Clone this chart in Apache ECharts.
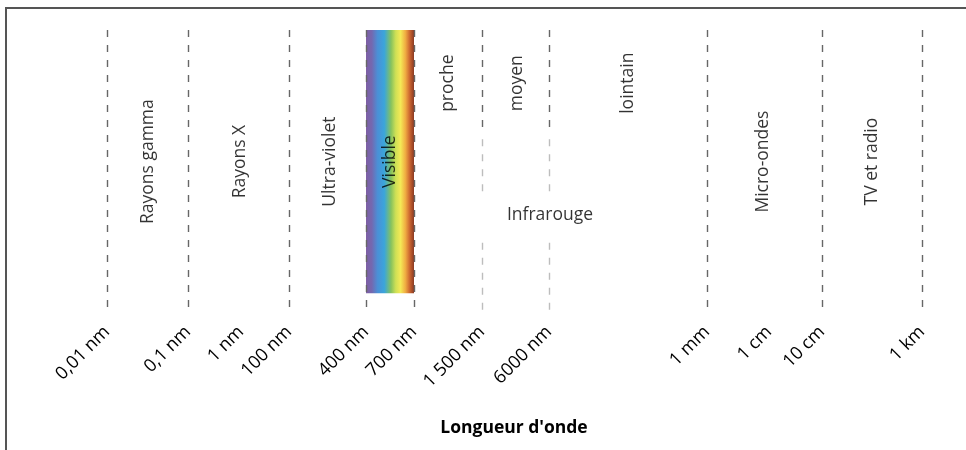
<!DOCTYPE html>
<html>
<head>
<meta charset="utf-8">
<script src="https://cdn.jsdelivr.net/npm/echarts@6/dist/echarts.min.js"></script>
<style>html,body{margin:0;padding:0;background:#fff;}#c{width:966px;height:450px;}</style>
</head>
<body>
<div id="c"></div>
<script>
// Schematic positions along the (non-linear) wavelength axis
const tickLabels = ['0,01 nm','0,1 nm','1 nm','100 nm','400 nm','700 nm','1 500 nm','6000 nm','1 mm','1 cm','10 cm','1 km'];
const tickPositions = [107,188,241,289,366,414,482,549,707,769,822,922];
const boundaries = [107,188,289,366,414,707,822,922];
const infraredBoundaries = [482,549];
const visibleRange = [366,414];
const visibleTop = 1;
const visibleBottom = 0.06;
const bandNames = ['Rayons gamma','Rayons X','Ultra-violet','Visible','proche','moyen','lointain','Micro-ondes','TV et radio'];
const bandX = [148,240,330,390,448,517,628,763,872];
const bandY = [0.53,0.53,0.53,0.53,0.81,0.81,0.81,0.53,0.53];
const infraName = 'Infrarouge';
const infraX = 550;
const infraY = 0.34;
// infrared boundary segments: [top, bottom, style]
const infraSegments = [[1,0.625,'dark'],[0.61,0.41,'light'],[0.24,0,'light']];

const FONT = '"Open Sans", "Noto Sans", sans-serif';
const chart = echarts.init(document.getElementById('c'));

const lineData = [];
boundaries.forEach(x => lineData.push([{coord:[x,1]},{coord:[x,0]}]));
infraredBoundaries.forEach(x => infraSegments.forEach(s => {
  lineData.push([{coord:[x,s[0]], lineStyle:{color: s[2]==='dark' ? '#666' : '#bdbdbd'}},{coord:[x,s[1]]}]);
}));

const option = {
  animation:false,
  textStyle:{fontFamily:FONT},
  grid:{left:0,right:0,top:30,bottom:140},
  xAxis:{
    type:'value', min:0, max:966,
    axisLine:{show:false}, axisTick:{show:false}, splitLine:{show:false},
    axisLabel:{
      customValues: tickPositions,
      rotate:45, margin:19, fontSize:18, color:'#000', fontFamily:FONT,
      hideOverlap:false,
      formatter: v => { const i = tickPositions.indexOf(v); return i>=0 ? tickLabels[i] : ''; }
    },
    name:"Longueur d'onde", nameLocation:'middle', nameGap:109,
    nameTextStyle:{fontSize:17.5, fontWeight:'bold', color:'#000', fontFamily:FONT, padding:[0,0,0,62]}
  },
  yAxis:{type:'value', min:0, max:1, show:false},
  graphic:[{
    type:'polyline', shape:{points:[[966,8],[6,8],[6,450]]},
    style:{stroke:'#555', lineWidth:2, fill:null}, silent:true
  }],
  series:[
    {
      type:'scatter', z:1, silent:true, data:[],
      markArea:{
        silent:true,
        itemStyle:{color:new echarts.graphic.LinearGradient(0,0,1,0,[
          {offset:0,color:'#7e5fa3'},{offset:0.12,color:'#7468b0'},
          {offset:0.24,color:'#4b8fd6'},{offset:0.38,color:'#3aa5dc'},
          {offset:0.52,color:'#85c25e'},{offset:0.62,color:'#cfe055'},
          {offset:0.72,color:'#f4e956'},{offset:0.82,color:'#f0ad42'},
          {offset:0.91,color:'#cc6630'},{offset:1,color:'#8b3a22'}])},
        data:[[{coord:[visibleRange[0],visibleBottom]},{coord:[visibleRange[1],visibleTop]}]]
      }
    },
    {
      type:'scatter', z:3, silent:true, data:[],
      markLine:{
        silent:true, symbol:['none','none'], label:{show:false},
        lineStyle:{color:'#666', width:1.4, type:[7,8]},
        data:lineData
      }
    },
    {
      type:'scatter', z:5, silent:true, symbolSize:0,
      data: bandNames.map((n,i)=>({name:n, value:[bandX[i],bandY[i]]})),
      label:{show:true, position:'inside', rotate:90, formatter:'{b}', fontSize:17.5, color:'#000', fontFamily:FONT}
    },
    {
      type:'scatter', z:5, silent:true, symbolSize:0,
      data:[{name:infraName, value:[infraX,infraY]}],
      label:{show:true, position:'inside', formatter:'{b}', fontSize:17.5, color:'#000', fontFamily:FONT}
    }
  ]
};
chart.setOption(option);
</script>
</body>
</html>
